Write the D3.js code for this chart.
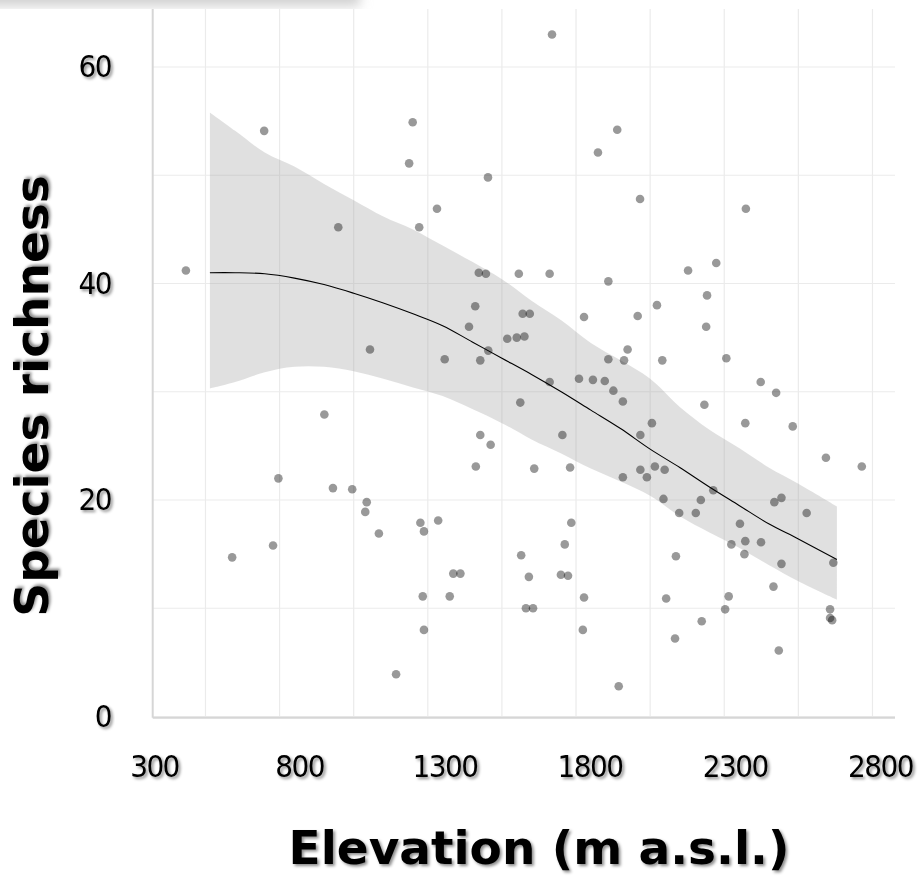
<!DOCTYPE html>
<html>
<head>
<meta charset="utf-8">
<script src="https://cdn.jsdelivr.net/npm/d3@7"></script>
<style>
  html, body { margin: 0; padding: 0; background: #fff; }
  svg { display: block; }
</style>
</head>
<body>
<div id="chart"></div>
<script>
// Plot observations: elevation (m a.s.l.) and species richness
const elevation = [434,698,948,1055,1199,1187,1669,1453,1281,1221,1889,1824,1966,1422,1446,1557,1661,1859,1410,1389,
  1570,1594,1518,1550,1576,1777,1958,2023,1454,1307,1427,1924,1859,1912,2041,2323,2223,2128,2192,2189,2257,
  901,746,930,995,1044,1039,1085,728,590,1143,1661,1760,1807,1847,1876,1908,1562,2006,1704,1967,
  1427,1462,1412,1609,1730,1908,1967,1989,2016,1225,1237,1285,1734,1712,1565,1336,1360,1591,
  1699,1723,1233,1324,1777,1581,1605,1237,1773,1894,2373,2425,2183,2321,2481,2593,2714,2049,2213,2045,
  2171,2098,2154,2419,2443,2528,2303,2274,2321,2374,2318,2443,2618,2087,2416,2054,2265,2253,2607,2607,
  2614,2174,2084,2434];
const richness = [41.2,54.1,45.2,33.9,54.9,51.1,63.0,49.8,46.9,45.2,54.2,52.1,47.8,41.0,40.9,40.9,40.9,40.2,37.9,36.0,
  37.2,37.2,34.9,35.0,35.1,36.9,37.0,38.0,33.8,33.0,32.9,33.9,33.0,32.9,32.9,46.9,41.9,41.2,38.9,36.0,33.1,
  27.9,22.0,21.1,21.0,19.8,18.9,16.9,15.8,14.7,3.9,30.9,31.2,31.1,31.0,30.1,29.1,29.0,27.1,26.0,26.0,
  26.0,25.1,23.1,22.9,23.0,22.1,22.8,22.1,23.1,17.9,17.1,18.1,17.9,15.9,14.9,13.2,13.2,12.9,
  13.1,13.0,11.1,11.1,11.0,10.0,10.0,8.0,8.0,2.8,30.9,29.9,28.8,27.1,26.8,23.9,23.1,22.8,20.9,20.1,
  20.0,18.8,18.8,19.8,20.2,18.8,17.8,15.9,16.2,16.1,15.0,14.1,14.2,14.8,12.0,10.9,11.1,9.9,9.9,9.1,
  8.9,8.8,7.2,6.1];

// Smoothed fit and its confidence band
const fitElevation = [515,600,700,800,900,1000,1100,1200,1300,1400,1500,1600,1700,1800,1900,2000,2100,2200,2300,2400,2500,2630];
const fitRichness  = [41.0,41.0,40.9,40.5,39.9,39.1,38.2,37.2,36.1,34.6,33.1,31.6,30.0,28.3,26.6,24.7,23.0,21.2,19.5,17.8,16.4,14.5];
const fitUpper     = [55.8,54.1,52.1,50.8,49.2,47.7,46.2,45.0,43.5,42.0,40.4,38.4,36.6,34.5,32.9,31.2,28.6,26.5,24.8,23.0,21.5,19.4];
const fitLower     = [30.3,30.9,31.8,32.3,32.3,31.9,31.2,30.4,29.6,28.4,27.1,25.6,24.3,22.9,21.7,20.4,18.5,17.0,15.6,14.0,12.5,10.8];

// Axis ticks and grid
const xTicks = [300,800,1300,1800,2300,2800];
const xGrid = [500,750,1000,1250,1500,1750,2000,2250,2500,2750];
const yTicks = [0,20,40,60];
const yGrid = [0,10,20,30,40,50,60];

const width = 924;
const height = 879;
const plot = { left: 152.7, right: 895, top: 9, bottom: 717.7 };

const svg = d3.select("#chart")
  .append("svg")
  .attr("width", width)
  .attr("height", height);

svg.append("rect")
  .attr("width", width)
  .attr("height", height)
  .attr("fill", "#fff");

// Soft shadows used by the text labels
const defs = svg.append("defs");
defs.append("filter")
  .attr("id", "shadow")
  .attr("x", "-20%").attr("y", "-20%")
  .attr("width", "140%").attr("height", "140%")
  .append("feDropShadow")
  .attr("dx", 2).attr("dy", 2)
  .attr("stdDeviation", 1.6)
  .attr("flood-color", "#000")
  .attr("flood-opacity", 0.45);
defs.append("filter")
  .attr("id", "blur")
  .append("feGaussianBlur")
  .attr("stdDeviation", 6);

// faint grey smudge along the top edge
svg.append("rect")
  .attr("x", -20).attr("y", -24)
  .attr("width", 380).attr("height", 30)
  .attr("fill", "#d0d0d0")
  .attr("filter", "url(#blur)");

const x = d3.scaleLinear()
  .domain([322, 2826])
  .range([plot.left, plot.right]);

// the tick labels sit a little apart from the data grid in the original
const xLabel = d3.scaleLinear()
  .domain([300, 2800])
  .range([154, 880]);

const y = d3.scaleLinear()
  .domain([0, 60])
  .range([716.5, 67]);

// Grid lines
const grid = svg.append("g").attr("class", "grid");
grid.selectAll("line.vgrid")
  .data(xGrid)
  .enter()
  .append("line")
  .attr("class", "vgrid")
  .attr("x1", d => x(d)).attr("x2", d => x(d))
  .attr("y1", plot.top).attr("y2", plot.bottom)
  .attr("stroke", "#ebebeb")
  .attr("stroke-width", 1.2);
grid.selectAll("line.hgrid")
  .data(yGrid)
  .enter()
  .append("line")
  .attr("class", "hgrid")
  .attr("x1", plot.left).attr("x2", plot.right)
  .attr("y1", d => y(d)).attr("y2", d => y(d))
  .attr("stroke", "#ebebeb")
  .attr("stroke-width", 1.2);

// Confidence band
const fitData = fitElevation.map((e, i) => ({ e, fit: fitRichness[i], lo: fitLower[i], hi: fitUpper[i] }));

svg.append("path")
  .datum(fitData)
  .attr("d", d3.area()
    .x(d => x(d.e))
    .y0(d => y(d.lo))
    .y1(d => y(d.hi))
    .curve(d3.curveCatmullRom))
  .attr("fill", "#999")
  .attr("fill-opacity", 0.3);

// Points
const points = d3.zip(elevation, richness);
svg.append("g")
  .selectAll("circle")
  .data(points)
  .enter()
  .append("circle")
  .attr("cx", d => x(d[0]))
  .attr("cy", d => y(d[1]))
  .attr("r", 4.3)
  .attr("fill", "#000")
  .attr("fill-opacity", 0.4);

// Fitted line
svg.append("path")
  .datum(fitData)
  .attr("d", d3.line()
    .x(d => x(d.e))
    .y(d => y(d.fit))
    .curve(d3.curveCatmullRom))
  .attr("fill", "none")
  .attr("stroke", "#000")
  .attr("stroke-width", 1.1);

// Axis lines
svg.append("line")
  .attr("x1", plot.left).attr("x2", plot.left)
  .attr("y1", plot.top).attr("y2", plot.bottom)
  .attr("stroke", "#d6d6d6")
  .attr("stroke-width", 2);
svg.append("line")
  .attr("x1", plot.left).attr("x2", plot.right)
  .attr("y1", plot.bottom).attr("y2", plot.bottom)
  .attr("stroke", "#d6d6d6")
  .attr("stroke-width", 2);

// Tick labels via d3 axes
const tickFont = "'DejaVu Sans Condensed', 'DejaVu Sans', sans-serif";

const xAxis = svg.append("g")
  .attr("transform", `translate(0,${plot.bottom})`)
  .call(d3.axisBottom(xLabel).tickValues(xTicks).tickSize(0).tickPadding(37).tickFormat(d3.format("d")));
xAxis.select(".domain").remove();
xAxis.selectAll("text")
  .attr("fill", "#000")
  .style("font-family", tickFont)
  .style("font-size", "31px")
  .style("letter-spacing", "-1.5px")
  .attr("filter", "url(#shadow)");

const yAxis = svg.append("g")
  .attr("transform", `translate(111,0)`)
  .call(d3.axisLeft(y).tickValues(yTicks).tickSize(0).tickPadding(0).tickFormat(d3.format("d")));
yAxis.select(".domain").remove();
yAxis.selectAll("text")
  .attr("fill", "#000")
  .style("font-family", tickFont)
  .style("font-size", "31px")
  .style("letter-spacing", "-1.5px")
  .attr("filter", "url(#shadow)");

// Axis titles
svg.append("text")
  .attr("x", 539)
  .attr("y", 864)
  .attr("text-anchor", "middle")
  .style("font-family", "'DejaVu Sans', Verdana, sans-serif")
  .style("font-weight", "bold")
  .style("font-size", "47px")
  .attr("filter", "url(#shadow)")
  .text("Elevation (m a.s.l.)");

svg.append("text")
  .attr("transform", "translate(48,396) rotate(-90)")
  .attr("text-anchor", "middle")
  .style("font-family", "'DejaVu Sans', Verdana, sans-serif")
  .style("font-weight", "bold")
  .style("font-size", "47px")
  .attr("filter", "url(#shadow)")
  .text("Species richness");
</script>
</body>
</html>
